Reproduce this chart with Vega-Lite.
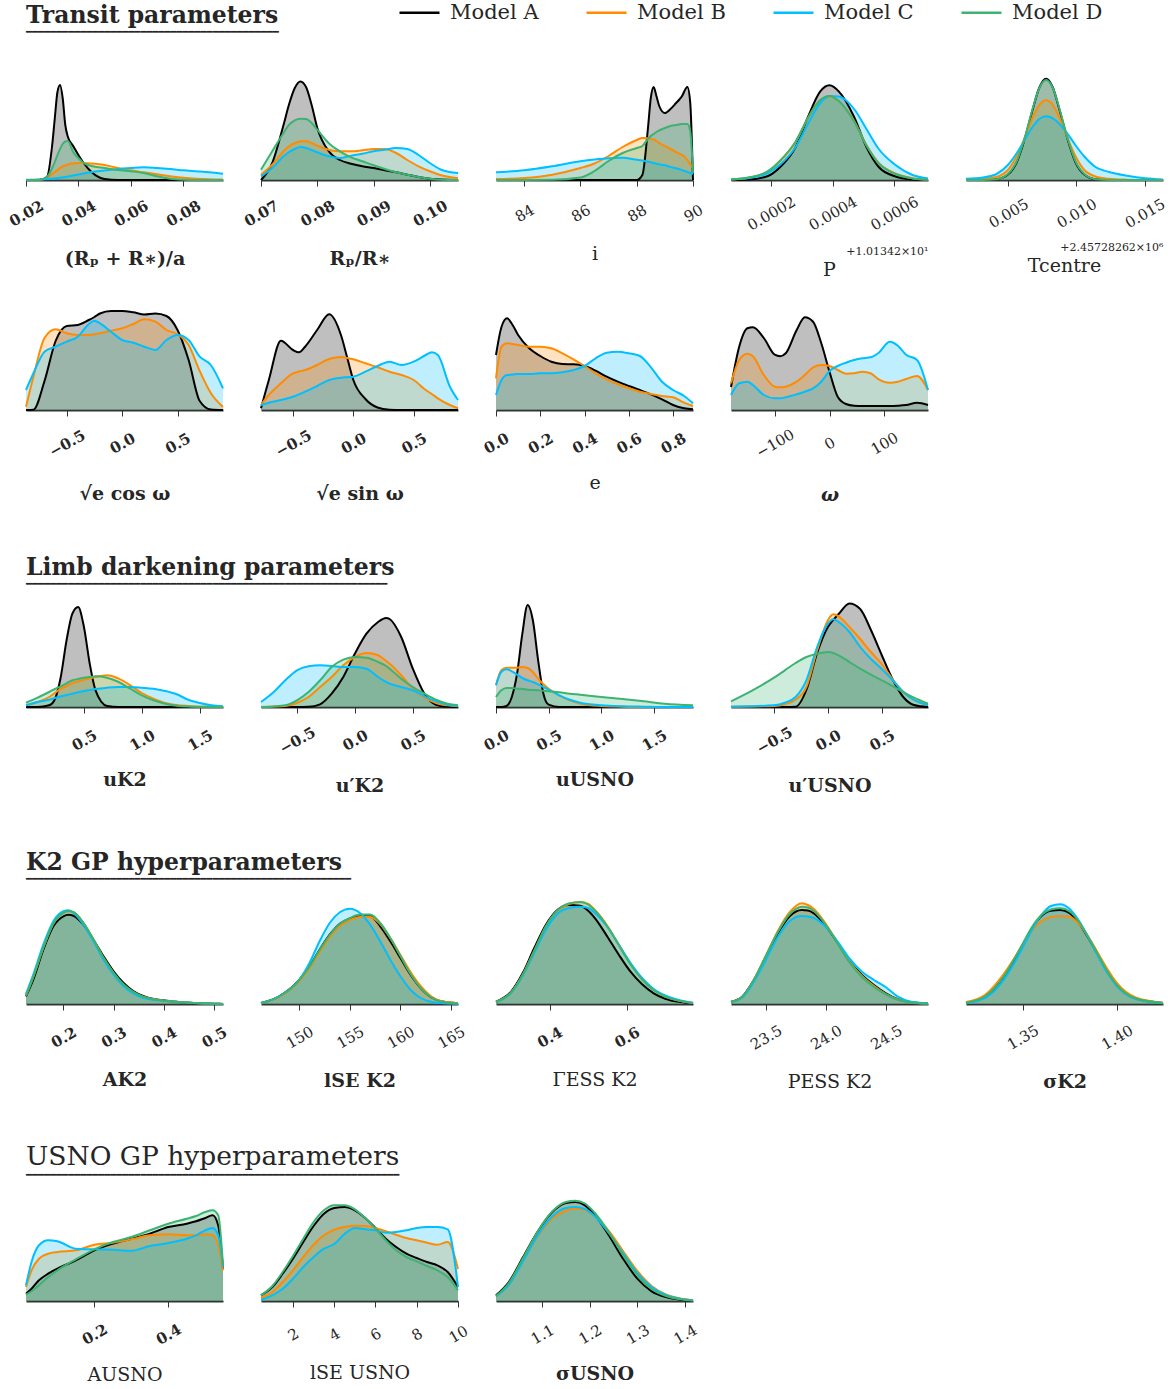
{
"$schema":"https://vega.github.io/schema/vega-lite/v6.json",
"background":"white",
"padding":{"left":6,"top":1,"right":0,"bottom":0},
"columns":5,
"bounds":"flush",
"spacing":{"row":125,"column":38},
"datasets":{
"a":[{"x":0.02,"A":0,"B":0,"C":0.003,"D":0},{"x":0.025,"A":0,"B":0.002,"C":0.006,"D":0},{"x":0.028,"A":0.03,"B":0.02,"C":0.01,"D":0.03},{"x":0.03,"A":0.35,"B":0.06,"C":0.015,"D":0.12},{"x":0.031,"A":0.62,"B":0.08,"C":0.017,"D":0.18},{"x":0.032,"A":0.88,"B":0.1,"C":0.02,"D":0.25},{"x":0.033,"A":0.95,"B":0.12,"C":0.023,"D":0.31},{"x":0.034,"A":0.82,"B":0.135,"C":0.027,"D":0.36},{"x":0.035,"A":0.55,"B":0.145,"C":0.03,"D":0.385},{"x":0.036,"A":0.43,"B":0.155,"C":0.035,"D":0.39},{"x":0.038,"A":0.34,"B":0.165,"C":0.045,"D":0.28},{"x":0.04,"A":0.25,"B":0.17,"C":0.055,"D":0.22},{"x":0.042,"A":0.17,"B":0.17,"C":0.065,"D":0.17},{"x":0.045,"A":0.08,"B":0.165,"C":0.08,"D":0.14},{"x":0.05,"A":0.01,"B":0.15,"C":0.095,"D":0.12},{"x":0.055,"A":0,"B":0.12,"C":0.11,"D":0.1},{"x":0.06,"A":0,"B":0.097,"C":0.12,"D":0.087},{"x":0.065,"A":0,"B":0.077,"C":0.127,"D":0.07},{"x":0.07,"A":0,"B":0.057,"C":0.12,"D":0.037},{"x":0.075,"A":0,"B":0.037,"C":0.11,"D":0.013},{"x":0.08,"A":0,"B":0.023,"C":0.097,"D":0.003},{"x":0.085,"A":0,"B":0.013,"C":0.087,"D":0},{"x":0.09,"A":0,"B":0.007,"C":0.077,"D":0},{"x":0.0952,"A":0,"B":0.004,"C":0.063,"D":0}],
"b":[{"x":0.07,"A":0,"B":0.053,"C":0.037,"D":0.103},{"x":0.072,"A":0.17,"B":0.153,"C":0.12,"D":0.287},{"x":0.074,"A":0.55,"B":0.287,"C":0.237,"D":0.47},{"x":0.075,"A":0.76,"B":0.337,"C":0.28,"D":0.553},{"x":0.076,"A":0.92,"B":0.37,"C":0.31,"D":0.597},{"x":0.077,"A":0.985,"B":0.387,"C":0.33,"D":0.613},{"x":0.078,"A":0.93,"B":0.387,"C":0.32,"D":0.61},{"x":0.079,"A":0.75,"B":0.37,"C":0.3,"D":0.57},{"x":0.08,"A":0.52,"B":0.343,"C":0.277,"D":0.503},{"x":0.082,"A":0.29,"B":0.303,"C":0.237,"D":0.37},{"x":0.084,"A":0.2,"B":0.287,"C":0.22,"D":0.287},{"x":0.086,"A":0.163,"B":0.287,"C":0.243,"D":0.227},{"x":0.088,"A":0.137,"B":0.297,"C":0.263,"D":0.187},{"x":0.09,"A":0.12,"B":0.31,"C":0.287,"D":0.147},{"x":0.092,"A":0.097,"B":0.31,"C":0.303,"D":0.11},{"x":0.094,"A":0.077,"B":0.27,"C":0.32,"D":0.077},{"x":0.096,"A":0.053,"B":0.2,"C":0.31,"D":0.053},{"x":0.098,"A":0.03,"B":0.137,"C":0.25,"D":0.03},{"x":0.1,"A":0.013,"B":0.087,"C":0.17,"D":0.013},{"x":0.102,"A":0.004,"B":0.047,"C":0.103,"D":0.003},{"x":0.105,"A":0,"B":0.017,"C":0.07,"D":0}],
"c":[{"x":83,"A":0,"B":0.01,"C":0.077,"D":0},{"x":84,"A":0,"B":0.02,"C":0.097,"D":0},{"x":85,"A":0,"B":0.053,"C":0.137,"D":0.002},{"x":86,"A":0,"B":0.12,"C":0.187,"D":0.025},{"x":86.5,"A":0,"B":0.165,"C":0.205,"D":0.09},{"x":87,"A":0,"B":0.24,"C":0.218,"D":0.19},{"x":87.5,"A":0,"B":0.33,"C":0.222,"D":0.27},{"x":88,"A":0,"B":0.4,"C":0.203,"D":0.32},{"x":88.2,"A":0.05,"B":0.42,"C":0.195,"D":0.34},{"x":88.4,"A":0.52,"B":0.418,"C":0.183,"D":0.41},{"x":88.5,"A":0.82,"B":0.412,"C":0.177,"D":0.44},{"x":88.6,"A":0.93,"B":0.405,"C":0.17,"D":0.46},{"x":88.7,"A":0.84,"B":0.39,"C":0.163,"D":0.48},{"x":88.8,"A":0.74,"B":0.37,"C":0.157,"D":0.495},{"x":89,"A":0.67,"B":0.34,"C":0.147,"D":0.52},{"x":89.2,"A":0.71,"B":0.31,"C":0.13,"D":0.54},{"x":89.4,"A":0.77,"B":0.28,"C":0.117,"D":0.55},{"x":89.5,"A":0.8,"B":0.265,"C":0.11,"D":0.555},{"x":89.6,"A":0.835,"B":0.253,"C":0.1,"D":0.56},{"x":89.8,"A":0.93,"B":0.2,"C":0.08,"D":0.56},{"x":89.9,"A":0.78,"B":0.16,"C":0.07,"D":0.49},{"x":90,"A":0,"B":0.12,"C":0.06,"D":0.07}],
"d":[{"x":0.00007,"A":0,"B":0.005,"C":0.008,"D":0.006},{"x":0.00013,"A":0.005,"B":0.025,"C":0.02,"D":0.027},{"x":0.00019,"A":0.04,"B":0.085,"C":0.07,"D":0.088},{"x":0.00023,"A":0.13,"B":0.19,"C":0.155,"D":0.195},{"x":0.00028,"A":0.33,"B":0.38,"C":0.33,"D":0.385},{"x":0.00032,"A":0.63,"B":0.62,"C":0.56,"D":0.62},{"x":0.00036,"A":0.886,"B":0.8,"C":0.77,"D":0.8},{"x":0.00039,"A":0.947,"B":0.835,"C":0.84,"D":0.84},{"x":0.00042,"A":0.886,"B":0.79,"C":0.835,"D":0.79},{"x":0.00047,"A":0.63,"B":0.59,"C":0.71,"D":0.585},{"x":0.00051,"A":0.33,"B":0.35,"C":0.51,"D":0.345},{"x":0.00055,"A":0.13,"B":0.17,"C":0.31,"D":0.165},{"x":0.0006,"A":0.04,"B":0.07,"C":0.16,"D":0.065},{"x":0.00066,"A":0.006,"B":0.018,"C":0.05,"D":0.016},{"x":0.00071,"A":0,"B":0.004,"C":0.015,"D":0.003}],
"e":[{"x":0.0019,"A":0,"B":0.003,"C":0.012,"D":0},{"x":0.00315,"A":0,"B":0.01,"C":0.025,"D":0},{"x":0.00414,"A":0.007,"B":0.03,"C":0.06,"D":0.008},{"x":0.00497,"A":0.054,"B":0.1,"C":0.15,"D":0.06},{"x":0.00563,"A":0.18,"B":0.24,"C":0.27,"D":0.19},{"x":0.00629,"A":0.45,"B":0.45,"C":0.42,"D":0.46},{"x":0.00678,"A":0.7,"B":0.62,"C":0.53,"D":0.71},{"x":0.00728,"A":0.925,"B":0.75,"C":0.61,"D":0.92},{"x":0.00777,"A":1.013,"B":0.797,"C":0.637,"D":1.0},{"x":0.00827,"A":0.925,"B":0.75,"C":0.617,"D":0.92},{"x":0.00876,"A":0.7,"B":0.62,"C":0.56,"D":0.71},{"x":0.00926,"A":0.45,"B":0.45,"C":0.48,"D":0.46},{"x":0.00992,"A":0.18,"B":0.24,"C":0.35,"D":0.19},{"x":0.01058,"A":0.054,"B":0.1,"C":0.235,"D":0.06},{"x":0.0114,"A":0.007,"B":0.035,"C":0.13,"D":0.008},{"x":0.0124,"A":0.001,"B":0.012,"C":0.08,"D":0.001},{"x":0.01371,"A":0,"B":0.003,"C":0.043,"D":0},{"x":0.01503,"A":0,"B":0,"C":0.017,"D":0},{"x":0.01635,"A":0,"B":0,"C":0.005,"D":0}],
"f":[{"x":-0.867,"A":0,"B":0.033,"C":0.2},{"x":-0.8,"A":0.003,"B":0.333,"C":0.367},{"x":-0.7,"A":0.29,"B":0.72,"C":0.583},{"x":-0.6,"A":0.69,"B":0.807,"C":0.633},{"x":-0.5,"A":0.84,"B":0.767,"C":0.683},{"x":-0.4,"A":0.85,"B":0.75,"C":0.733},{"x":-0.3,"A":0.9,"B":0.75,"C":0.86},{"x":-0.25,"A":0.93,"B":0.757,"C":0.893},{"x":-0.2,"A":0.965,"B":0.767,"C":0.867},{"x":-0.1,"A":0.99,"B":0.793,"C":0.783},{"x":0,"A":0.99,"B":0.817,"C":0.7},{"x":0.1,"A":0.977,"B":0.86,"C":0.673},{"x":0.2,"A":0.955,"B":0.907,"C":0.633},{"x":0.3,"A":0.965,"B":0.883,"C":0.6},{"x":0.4,"A":0.94,"B":0.8,"C":0.7},{"x":0.5,"A":0.8,"B":0.757,"C":0.75},{"x":0.6,"A":0.5,"B":0.65,"C":0.7},{"x":0.7,"A":0.09,"B":0.39,"C":0.533},{"x":0.8,"A":0.005,"B":0.17,"C":0.45},{"x":0.91,"A":0,"B":0.03,"C":0.217}],
"g":[{"x":-0.765,"A":0.017,"B":0.05,"C":0.05},{"x":-0.7,"A":0.3,"B":0.15,"C":0.073},{"x":-0.6,"A":0.693,"B":0.267,"C":0.1},{"x":-0.5,"A":0.6,"B":0.367,"C":0.133},{"x":-0.45,"A":0.577,"B":0.385,"C":0.157},{"x":-0.4,"A":0.633,"B":0.4,"C":0.183},{"x":-0.3,"A":0.8,"B":0.45,"C":0.24},{"x":-0.2,"A":0.957,"B":0.51,"C":0.3},{"x":-0.1,"A":0.74,"B":0.53,"C":0.323},{"x":-0.05,"A":0.52,"B":0.52,"C":0.328},{"x":0,"A":0.3,"B":0.507,"C":0.333},{"x":0.1,"A":0.11,"B":0.467,"C":0.383},{"x":0.2,"A":0.025,"B":0.427,"C":0.44},{"x":0.3,"A":0.003,"B":0.383,"C":0.483},{"x":0.4,"A":0,"B":0.35,"C":0.45},{"x":0.5,"A":0,"B":0.3,"C":0.483},{"x":0.6,"A":0,"B":0.2,"C":0.55},{"x":0.65,"A":0,"B":0.16,"C":0.577},{"x":0.7,"A":0,"B":0.117,"C":0.55},{"x":0.8,"A":0,"B":0.05,"C":0.233},{"x":0.867,"A":0,"B":0.017,"C":0.1}],
"h":[{"x":0,"A":0.55,"B":0.317,"C":0.15},{"x":0.025,"A":0.833,"B":0.633,"C":0.3},{"x":0.05,"A":0.917,"B":0.667,"C":0.35},{"x":0.075,"A":0.85,"B":0.66,"C":0.355},{"x":0.1,"A":0.75,"B":0.65,"C":0.36},{"x":0.15,"A":0.617,"B":0.633,"C":0.36},{"x":0.2,"A":0.54,"B":0.633,"C":0.367},{"x":0.25,"A":0.483,"B":0.617,"C":0.367},{"x":0.3,"A":0.46,"B":0.567,"C":0.377},{"x":0.35,"A":0.457,"B":0.507,"C":0.4},{"x":0.4,"A":0.44,"B":0.44,"C":0.44},{"x":0.45,"A":0.393,"B":0.367,"C":0.517},{"x":0.5,"A":0.333,"B":0.307,"C":0.573},{"x":0.55,"A":0.283,"B":0.257,"C":0.583},{"x":0.6,"A":0.24,"B":0.217,"C":0.567},{"x":0.65,"A":0.2,"B":0.183,"C":0.54},{"x":0.7,"A":0.157,"B":0.16,"C":0.427},{"x":0.75,"A":0.107,"B":0.14,"C":0.283},{"x":0.8,"A":0.05,"B":0.127,"C":0.2},{"x":0.85,"A":0.017,"B":0.073,"C":0.14},{"x":0.89,"A":0.007,"B":0.04,"C":0.067}],
"i":[{"x":-180,"A":0.23,"B":0.267,"C":0.15},{"x":-165,"A":0.633,"B":0.5,"C":0.267},{"x":-150,"A":0.817,"B":0.563,"C":0.283},{"x":-140,"A":0.827,"B":0.537,"C":0.25},{"x":-120,"A":0.72,"B":0.35,"C":0.15},{"x":-100,"A":0.553,"B":0.233,"C":0.117},{"x":-90,"A":0.537,"B":0.227,"C":0.117},{"x":-80,"A":0.567,"B":0.233,"C":0.127},{"x":-60,"A":0.8,"B":0.283,"C":0.157},{"x":-45,"A":0.927,"B":0.35,"C":0.183},{"x":-30,"A":0.883,"B":0.427,"C":0.217},{"x":-15,"A":0.667,"B":0.45,"C":0.283},{"x":0,"A":0.383,"B":0.44,"C":0.39},{"x":15,"A":0.133,"B":0.4,"C":0.44},{"x":30,"A":0.06,"B":0.363,"C":0.473},{"x":45,"A":0.043,"B":0.367,"C":0.5},{"x":60,"A":0.04,"B":0.383,"C":0.517},{"x":75,"A":0.04,"B":0.367,"C":0.527},{"x":90,"A":0.04,"B":0.307,"C":0.573},{"x":110,"A":0.04,"B":0.273,"C":0.683},{"x":125,"A":0.043,"B":0.283,"C":0.643},{"x":140,"A":0.05,"B":0.31,"C":0.553},{"x":160,"A":0.073,"B":0.34,"C":0.5},{"x":180,"A":0.05,"B":0.2,"C":0.2}],
"j":[{"x":0,"A":0,"B":0.017,"C":0.017,"D":0.043},{"x":0.1,"A":0,"B":0.05,"C":0.05,"D":0.093},{"x":0.2,"A":0.017,"B":0.1,"C":0.073,"D":0.15},{"x":0.25,"A":0.08,"B":0.14,"C":0.09,"D":0.18},{"x":0.3,"A":0.3,"B":0.183,"C":0.107,"D":0.207},{"x":0.35,"A":0.667,"B":0.21,"C":0.12,"D":0.237},{"x":0.4,"A":0.933,"B":0.24,"C":0.133,"D":0.267},{"x":0.45,"A":1.0,"B":0.255,"C":0.147,"D":0.28},{"x":0.5,"A":0.8,"B":0.273,"C":0.16,"D":0.293},{"x":0.55,"A":0.433,"B":0.285,"C":0.17,"D":0.3},{"x":0.6,"A":0.167,"B":0.3,"C":0.18,"D":0.307},{"x":0.7,"A":0.01,"B":0.317,"C":0.193,"D":0.293},{"x":0.8,"A":0,"B":0.283,"C":0.2,"D":0.25},{"x":0.9,"A":0,"B":0.217,"C":0.2,"D":0.183},{"x":1.0,"A":0,"B":0.14,"C":0.193,"D":0.117},{"x":1.1,"A":0,"B":0.083,"C":0.183,"D":0.067},{"x":1.2,"A":0,"B":0.04,"C":0.16,"D":0.033},{"x":1.3,"A":0,"B":0.02,"C":0.127,"D":0.013},{"x":1.4,"A":0,"B":0.01,"C":0.073,"D":0.005},{"x":1.5,"A":0,"B":0.003,"C":0.04,"D":0.002},{"x":1.6,"A":0,"B":0.001,"C":0.017,"D":0},{"x":1.7,"A":0,"B":0,"C":0.007,"D":0}],
"k":[{"x":-0.81,"A":0,"B":0,"C":0.05,"D":0},{"x":-0.7,"A":0,"B":0.005,"C":0.15,"D":0.005},{"x":-0.6,"A":0,"B":0.01,"C":0.267,"D":0.017},{"x":-0.5,"A":0,"B":0.04,"C":0.367,"D":0.067},{"x":-0.4,"A":0.002,"B":0.1,"C":0.407,"D":0.15},{"x":-0.3,"A":0.027,"B":0.2,"C":0.417,"D":0.267},{"x":-0.2,"A":0.133,"B":0.3,"C":0.41,"D":0.4},{"x":-0.1,"A":0.3,"B":0.417,"C":0.4,"D":0.473},{"x":0,"A":0.533,"B":0.5,"C":0.4,"D":0.5},{"x":0.1,"A":0.733,"B":0.54,"C":0.383,"D":0.493},{"x":0.2,"A":0.85,"B":0.517,"C":0.3,"D":0.45},{"x":0.27,"A":0.89,"B":0.46,"C":0.25,"D":0.41},{"x":0.3,"A":0.88,"B":0.433,"C":0.233,"D":0.383},{"x":0.4,"A":0.7,"B":0.317,"C":0.2,"D":0.283},{"x":0.5,"A":0.383,"B":0.183,"C":0.167,"D":0.2},{"x":0.6,"A":0.133,"B":0.093,"C":0.107,"D":0.133},{"x":0.7,"A":0.023,"B":0.04,"C":0.057,"D":0.073},{"x":0.8,"A":0.002,"B":0.017,"C":0.023,"D":0.033},{"x":0.89,"A":0,"B":0.007,"C":0.01,"D":0.017}],
"l":[{"x":0,"A":0,"B":0.217,"C":0.217,"D":0.1},{"x":0.05,"A":0,"B":0.367,"C":0.35,"D":0.167},{"x":0.1,"A":0.01,"B":0.393,"C":0.377,"D":0.19},{"x":0.15,"A":0.1,"B":0.393,"C":0.357,"D":0.19},{"x":0.2,"A":0.333,"B":0.393,"C":0.323,"D":0.183},{"x":0.25,"A":0.733,"B":0.4,"C":0.29,"D":0.18},{"x":0.3,"A":1.02,"B":0.39,"C":0.267,"D":0.173},{"x":0.35,"A":0.867,"B":0.35,"C":0.25,"D":0.17},{"x":0.4,"A":0.467,"B":0.283,"C":0.227,"D":0.167},{"x":0.45,"A":0.133,"B":0.227,"C":0.2,"D":0.162},{"x":0.5,"A":0.023,"B":0.183,"C":0.173,"D":0.157},{"x":0.6,"A":0,"B":0.117,"C":0.117,"D":0.147},{"x":0.7,"A":0,"B":0.067,"C":0.073,"D":0.133},{"x":0.8,"A":0,"B":0.033,"C":0.043,"D":0.123},{"x":1.0,"A":0,"B":0.01,"C":0.017,"D":0.1},{"x":1.2,"A":0,"B":0.003,"C":0.007,"D":0.08},{"x":1.4,"A":0,"B":0,"C":0.003,"D":0.057},{"x":1.6,"A":0,"B":0,"C":0,"D":0.033},{"x":1.87,"A":0,"B":0,"C":0,"D":0.017}],
"m":[{"x":-0.9,"A":0,"B":0.003,"C":0.003,"D":0.057},{"x":-0.7,"A":0,"B":0.005,"C":0.008,"D":0.167},{"x":-0.5,"A":0,"B":0.01,"C":0.017,"D":0.293},{"x":-0.4,"A":0,"B":0.027,"C":0.043,"D":0.367},{"x":-0.3,"A":0.003,"B":0.073,"C":0.1,"D":0.44},{"x":-0.2,"A":0.17,"B":0.2,"C":0.267,"D":0.5},{"x":-0.1,"A":0.54,"B":0.567,"C":0.6,"D":0.533},{"x":0,"A":0.8,"B":0.867,"C":0.833,"D":0.55},{"x":0.05,"A":0.87,"B":0.927,"C":0.877,"D":0.54},{"x":0.1,"A":0.93,"B":0.907,"C":0.85,"D":0.517},{"x":0.2,"A":1.035,"B":0.8,"C":0.75,"D":0.45},{"x":0.3,"A":0.98,"B":0.68,"C":0.6,"D":0.383},{"x":0.4,"A":0.77,"B":0.55,"C":0.48,"D":0.323},{"x":0.5,"A":0.52,"B":0.43,"C":0.38,"D":0.267},{"x":0.6,"A":0.28,"B":0.28,"C":0.27,"D":0.21},{"x":0.7,"A":0.1,"B":0.15,"C":0.15,"D":0.15},{"x":0.8,"A":0.02,"B":0.07,"C":0.07,"D":0.093},{"x":0.93,"A":0,"B":0.02,"C":0.02,"D":0.033}],
"n":[{"x":0.1255,"A":0.077,"B":0.083,"C":0.1,"D":0.085},{"x":0.14,"A":0.243,"B":0.27,"C":0.293,"D":0.272},{"x":0.16,"A":0.543,"B":0.563,"C":0.593,"D":0.565},{"x":0.18,"A":0.777,"B":0.803,"C":0.827,"D":0.805},{"x":0.2,"A":0.877,"B":0.91,"C":0.927,"D":0.912},{"x":0.21,"A":0.893,"B":0.927,"C":0.937,"D":0.93},{"x":0.22,"A":0.883,"B":0.917,"C":0.91,"D":0.92},{"x":0.24,"A":0.793,"B":0.81,"C":0.793,"D":0.812},{"x":0.26,"A":0.643,"B":0.643,"C":0.627,"D":0.645},{"x":0.28,"A":0.477,"B":0.46,"C":0.443,"D":0.462},{"x":0.3,"A":0.327,"B":0.31,"C":0.293,"D":0.312},{"x":0.32,"A":0.21,"B":0.193,"C":0.177,"D":0.195},{"x":0.34,"A":0.127,"B":0.117,"C":0.103,"D":0.118},{"x":0.36,"A":0.077,"B":0.07,"C":0.06,"D":0.071},{"x":0.38,"A":0.05,"B":0.047,"C":0.043,"D":0.047},{"x":0.4,"A":0.037,"B":0.033,"C":0.033,"D":0.033},{"x":0.43,"A":0.02,"B":0.02,"C":0.02,"D":0.02},{"x":0.46,"A":0.01,"B":0.01,"C":0.01,"D":0.01},{"x":0.5,"A":0.003,"B":0.003,"C":0.003,"D":0.003},{"x":0.518,"A":0,"B":0,"C":0,"D":0}],
"o":[{"x":146.2,"A":0.01,"B":0.008,"C":0.01,"D":0.01},{"x":148,"A":0.077,"B":0.07,"C":0.077,"D":0.075},{"x":150,"A":0.243,"B":0.23,"C":0.243,"D":0.24},{"x":151,"A":0.377,"B":0.36,"C":0.41,"D":0.375},{"x":152,"A":0.543,"B":0.52,"C":0.627,"D":0.54},{"x":153,"A":0.693,"B":0.67,"C":0.81,"D":0.69},{"x":154,"A":0.803,"B":0.78,"C":0.917,"D":0.8},{"x":155,"A":0.853,"B":0.84,"C":0.953,"D":0.86},{"x":156,"A":0.877,"B":0.87,"C":0.91,"D":0.895},{"x":157,"A":0.878,"B":0.87,"C":0.793,"D":0.895},{"x":158,"A":0.777,"B":0.8,"C":0.627,"D":0.81},{"x":159,"A":0.627,"B":0.66,"C":0.443,"D":0.66},{"x":160,"A":0.46,"B":0.49,"C":0.277,"D":0.48},{"x":161,"A":0.293,"B":0.32,"C":0.143,"D":0.3},{"x":162,"A":0.16,"B":0.18,"C":0.06,"D":0.16},{"x":163,"A":0.07,"B":0.08,"C":0.023,"D":0.07},{"x":164,"A":0.027,"B":0.03,"C":0.01,"D":0.025},{"x":165.7,"A":0.007,"B":0.007,"C":0.003,"D":0.005}],
"q":[{"x":0.261,"A":0.023,"B":0.02,"C":0.02,"D":0.02},{"x":0.3,"A":0.123,"B":0.115,"C":0.11,"D":0.113},{"x":0.33,"A":0.307,"B":0.29,"C":0.28,"D":0.29},{"x":0.36,"A":0.557,"B":0.53,"C":0.51,"D":0.53},{"x":0.39,"A":0.79,"B":0.77,"C":0.74,"D":0.775},{"x":0.42,"A":0.94,"B":0.93,"C":0.9,"D":0.935},{"x":0.45,"A":0.99,"B":1.0,"C":0.96,"D":1.005},{"x":0.48,"A":0.983,"B":1.02,"C":0.973,"D":1.02},{"x":0.5,"A":0.933,"B":1.0,"C":0.96,"D":0.995},{"x":0.52,"A":0.847,"B":0.93,"C":0.9,"D":0.925},{"x":0.55,"A":0.673,"B":0.78,"C":0.77,"D":0.775},{"x":0.58,"A":0.49,"B":0.59,"C":0.59,"D":0.585},{"x":0.61,"A":0.323,"B":0.4,"C":0.41,"D":0.395},{"x":0.64,"A":0.197,"B":0.25,"C":0.26,"D":0.245},{"x":0.67,"A":0.107,"B":0.14,"C":0.15,"D":0.137},{"x":0.7,"A":0.053,"B":0.075,"C":0.085,"D":0.073},{"x":0.74,"A":0.02,"B":0.03,"C":0.035,"D":0.029},{"x":0.772,"A":0.007,"B":0.01,"C":0.012,"D":0.01}],
"r":[{"x":23.21,"A":0.023,"B":0.02,"C":0.02,"D":0.02},{"x":23.3,"A":0.07,"B":0.065,"C":0.06,"D":0.068},{"x":23.4,"A":0.24,"B":0.24,"C":0.22,"D":0.24},{"x":23.5,"A":0.473,"B":0.48,"C":0.44,"D":0.48},{"x":23.6,"A":0.707,"B":0.73,"C":0.67,"D":0.72},{"x":23.7,"A":0.88,"B":0.92,"C":0.83,"D":0.9},{"x":23.8,"A":0.94,"B":1.007,"C":0.88,"D":0.973},{"x":23.85,"A":0.935,"B":0.99,"C":0.875,"D":0.965},{"x":23.9,"A":0.907,"B":0.95,"C":0.86,"D":0.93},{"x":24.0,"A":0.78,"B":0.8,"C":0.77,"D":0.79},{"x":24.1,"A":0.607,"B":0.61,"C":0.62,"D":0.6},{"x":24.2,"A":0.423,"B":0.42,"C":0.45,"D":0.41},{"x":24.3,"A":0.29,"B":0.28,"C":0.323,"D":0.27},{"x":24.4,"A":0.19,"B":0.18,"C":0.24,"D":0.17},{"x":24.5,"A":0.107,"B":0.1,"C":0.167,"D":0.095},{"x":24.6,"A":0.047,"B":0.045,"C":0.073,"D":0.042},{"x":24.7,"A":0.02,"B":0.018,"C":0.025,"D":0.016},{"x":24.85,"A":0.005,"B":0.004,"C":0.005,"D":0.004}],
"s":[{"x":1.32,"A":0.013,"B":0.02,"C":0.01,"D":0.013},{"x":1.33,"A":0.073,"B":0.09,"C":0.06,"D":0.075},{"x":1.34,"A":0.273,"B":0.3,"C":0.24,"D":0.275},{"x":1.345,"A":0.423,"B":0.44,"C":0.39,"D":0.43},{"x":1.35,"A":0.59,"B":0.59,"C":0.56,"D":0.6},{"x":1.355,"A":0.757,"B":0.73,"C":0.74,"D":0.77},{"x":1.36,"A":0.88,"B":0.83,"C":0.89,"D":0.89},{"x":1.365,"A":0.933,"B":0.87,"C":0.98,"D":0.945},{"x":1.37,"A":0.94,"B":0.88,"C":0.997,"D":0.957},{"x":1.375,"A":0.907,"B":0.87,"C":0.95,"D":0.925},{"x":1.38,"A":0.807,"B":0.8,"C":0.83,"D":0.82},{"x":1.385,"A":0.657,"B":0.67,"C":0.66,"D":0.665},{"x":1.39,"A":0.49,"B":0.51,"C":0.48,"D":0.495},{"x":1.395,"A":0.323,"B":0.35,"C":0.31,"D":0.325},{"x":1.4,"A":0.19,"B":0.21,"C":0.18,"D":0.19},{"x":1.41,"A":0.057,"B":0.065,"C":0.05,"D":0.055},{"x":1.4245,"A":0.01,"B":0.012,"C":0.008,"D":0.01}],
"t":[{"x":0.015,"A":0.073,"B":0.14,"C":0.157,"D":0.063},{"x":0.03,"A":0.123,"B":0.307,"C":0.39,"D":0.097},{"x":0.05,"A":0.207,"B":0.423,"C":0.557,"D":0.157},{"x":0.075,"A":0.273,"B":0.473,"C":0.607,"D":0.24},{"x":0.1,"A":0.323,"B":0.49,"C":0.597,"D":0.307},{"x":0.15,"A":0.407,"B":0.507,"C":0.523,"D":0.417},{"x":0.2,"A":0.507,"B":0.563,"C":0.517,"D":0.517},{"x":0.25,"A":0.573,"B":0.583,"C":0.513,"D":0.59},{"x":0.3,"A":0.623,"B":0.617,"C":0.503,"D":0.64},{"x":0.35,"A":0.673,"B":0.657,"C":0.55,"D":0.707},{"x":0.4,"A":0.74,"B":0.667,"C":0.58,"D":0.773},{"x":0.45,"A":0.773,"B":0.657,"C":0.623,"D":0.823},{"x":0.475,"A":0.797,"B":0.657,"C":0.657,"D":0.85},{"x":0.5,"A":0.83,"B":0.667,"C":0.707,"D":0.89},{"x":0.52,"A":0.857,"B":0.657,"C":0.73,"D":0.907},{"x":0.535,"A":0.757,"B":0.557,"C":0.657,"D":0.857},{"x":0.548,"A":0.323,"B":0.307,"C":0.34,"D":0.357}],
"u":[{"x":0.45,"A":0.057,"B":0.03,"C":0.013,"D":0.057},{"x":1,"A":0.14,"B":0.09,"C":0.057,"D":0.15},{"x":1.5,"A":0.273,"B":0.19,"C":0.123,"D":0.29},{"x":2,"A":0.423,"B":0.307,"C":0.223,"D":0.45},{"x":2.5,"A":0.59,"B":0.44,"C":0.34,"D":0.623},{"x":3,"A":0.75,"B":0.563,"C":0.44,"D":0.79},{"x":3.5,"A":0.873,"B":0.657,"C":0.523,"D":0.907},{"x":4,"A":0.93,"B":0.713,"C":0.57,"D":0.957},{"x":4.5,"A":0.94,"B":0.74,"C":0.67,"D":0.957},{"x":5,"A":0.907,"B":0.753,"C":0.73,"D":0.917},{"x":5.5,"A":0.83,"B":0.75,"C":0.717,"D":0.83},{"x":6,"A":0.73,"B":0.73,"C":0.707,"D":0.723},{"x":6.5,"A":0.623,"B":0.697,"C":0.683,"D":0.607},{"x":7,"A":0.54,"B":0.663,"C":0.69,"D":0.507},{"x":7.5,"A":0.473,"B":0.63,"C":0.707,"D":0.44},{"x":8,"A":0.43,"B":0.607,"C":0.73,"D":0.397},{"x":8.5,"A":0.39,"B":0.583,"C":0.74,"D":0.35},{"x":9,"A":0.357,"B":0.563,"C":0.74,"D":0.307},{"x":9.5,"A":0.29,"B":0.59,"C":0.717,"D":0.24},{"x":10,"A":0.14,"B":0.32,"C":0.14,"D":0.107}],
"v":[{"x":1.003,"A":0.057,"B":0.045,"C":0.045,"D":0.05},{"x":1.03,"A":0.19,"B":0.16,"C":0.16,"D":0.18},{"x":1.06,"A":0.44,"B":0.4,"C":0.4,"D":0.43},{"x":1.09,"A":0.69,"B":0.64,"C":0.65,"D":0.69},{"x":1.12,"A":0.883,"B":0.82,"C":0.84,"D":0.89},{"x":1.15,"A":0.98,"B":0.905,"C":0.93,"D":0.99},{"x":1.17,"A":0.99,"B":0.923,"C":0.94,"D":1.003},{"x":1.19,"A":0.957,"B":0.91,"C":0.92,"D":0.975},{"x":1.21,"A":0.863,"B":0.85,"C":0.85,"D":0.885},{"x":1.24,"A":0.657,"B":0.7,"C":0.68,"D":0.69},{"x":1.27,"A":0.423,"B":0.5,"C":0.48,"D":0.46},{"x":1.3,"A":0.223,"B":0.3,"C":0.28,"D":0.26},{"x":1.33,"A":0.097,"B":0.15,"C":0.14,"D":0.12},{"x":1.36,"A":0.04,"B":0.065,"C":0.06,"D":0.05},{"x":1.39,"A":0.013,"B":0.025,"C":0.022,"D":0.018},{"x":1.417,"A":0.003,"B":0.008,"C":0.007,"D":0.005}]
},
"concat":[
{"width":197,"height":105,"data":{"name":"a"},"title":{"text":"Transit parameters","subtitle":"━━━━━━━━━━━━━━━━━━━━━━━━━━━━━━━━━━━━━━━━━━","anchor":"start","frame":"group","orient":"top","fontSize":23.5,"fontWeight":"bold","subtitleFont":"DejaVu Sans","subtitleFontSize":10,"subtitleColor":"#262626","subtitlePadding":0,"offset":38},"transform":[{"fold":["A","B","C","D"],"as":["m","y"]},{"filter":"isValid(datum.y)"}],"encoding":{"x":{"field":"x","type":"quantitative","scale":{"domain":[0.02,0.0952],"nice":false,"zero":false},"axis":{"title":"(Rₚ + R∗)/a","values":[0.02,0.04,0.06,0.08],"format":".2f","labelFontWeight":"bold","titleFontWeight":"bold"}},"y":{"field":"y","type":"quantitative","stack":null,"scale":{"domain":[0,1.05],"nice":false},"axis":null},"color":{"field":"m","type":"nominal","scale":{"domain":["A","B","C","D"],"range":["#000000","#ff8c00","#00bfff","#3cb371"]},"legend":{"orient":"none","legendX":382,"legendY":-74,"direction":"horizontal","title":null,"labelExpr":"'Model ' + datum.label"}}},"layer":[{"mark":{"type":"area","interpolate":"monotone","fillOpacity":0.25,"opacity":1}},{"mark":{"type":"line","interpolate":"monotone","strokeWidth":2}}]},
{"width":197,"height":105,"data":{"name":"b"},"transform":[{"fold":["A","B","C","D"],"as":["m","y"]},{"filter":"isValid(datum.y)"}],"encoding":{"x":{"field":"x","type":"quantitative","scale":{"domain":[0.07,0.105],"nice":false,"zero":false},"axis":{"title":"Rₚ/R∗","values":[0.07,0.08,0.09,0.1],"format":".2f","labelFontWeight":"bold","titleFontWeight":"bold"}},"y":{"field":"y","type":"quantitative","stack":null,"scale":{"domain":[0,1.05],"nice":false},"axis":null},"color":{"field":"m","type":"nominal","scale":{"domain":["A","B","C","D"],"range":["#000000","#ff8c00","#00bfff","#3cb371"]},"legend":{"orient":"none","legendX":382,"legendY":-74,"direction":"horizontal","title":null,"labelExpr":"'Model ' + datum.label"}}},"layer":[{"mark":{"type":"area","interpolate":"monotone","fillOpacity":0.25,"opacity":1}},{"mark":{"type":"line","interpolate":"monotone","strokeWidth":2}}]},
{"width":197,"height":105,"data":{"name":"c"},"transform":[{"fold":["A","B","C","D"],"as":["m","y"]},{"filter":"isValid(datum.y)"}],"encoding":{"x":{"field":"x","type":"quantitative","scale":{"domain":[83,90],"nice":false,"zero":false},"axis":{"title":"i","values":[84,86,88,90],"format":"d"}},"y":{"field":"y","type":"quantitative","stack":null,"scale":{"domain":[0,1.05],"nice":false},"axis":null},"color":{"field":"m","type":"nominal","scale":{"domain":["A","B","C","D"],"range":["#000000","#ff8c00","#00bfff","#3cb371"]},"legend":{"orient":"none","legendX":382,"legendY":-74,"direction":"horizontal","title":null,"labelExpr":"'Model ' + datum.label"}}},"layer":[{"mark":{"type":"area","interpolate":"monotone","fillOpacity":0.25,"opacity":1}},{"mark":{"type":"line","interpolate":"monotone","strokeWidth":2}}]},
{"width":197,"height":105,"data":{"name":"d"},"title":{"text":"P","orient":"bottom","frame":"group","anchor":"middle","fontSize":19,"fontWeight":"normal","offset":5},"transform":[{"fold":["A","B","C","D"],"as":["m","y"]},{"filter":"isValid(datum.y)"}],"encoding":{"x":{"field":"x","type":"quantitative","scale":{"domain":[0.00007,0.00071],"nice":false,"zero":false},"axis":{"title":"+1.01342×10¹","titleFontSize":11,"titleAnchor":"end","titlePadding":12,"values":[0.0002,0.0004,0.0006],"format":".4f"}},"y":{"field":"y","type":"quantitative","stack":null,"scale":{"domain":[0,1.05],"nice":false},"axis":null},"color":{"field":"m","type":"nominal","scale":{"domain":["A","B","C","D"],"range":["#000000","#ff8c00","#00bfff","#3cb371"]},"legend":{"orient":"none","legendX":382,"legendY":-74,"direction":"horizontal","title":null,"labelExpr":"'Model ' + datum.label"}}},"layer":[{"mark":{"type":"area","interpolate":"monotone","fillOpacity":0.25,"opacity":1}},{"mark":{"type":"line","interpolate":"monotone","strokeWidth":2}}]},
{"width":197,"height":105,"data":{"name":"e"},"title":{"text":"Tcentre","orient":"bottom","frame":"group","anchor":"middle","fontSize":19,"fontWeight":"normal","offset":4},"transform":[{"fold":["A","B","C","D"],"as":["m","y"]},{"filter":"isValid(datum.y)"}],"encoding":{"x":{"field":"x","type":"quantitative","scale":{"domain":[0.0019,0.01635],"nice":false,"zero":false},"axis":{"title":"+2.45728262×10⁶","titleFontSize":11,"titleAnchor":"end","titlePadding":11,"values":[0.005,0.01,0.015],"format":".3f"}},"y":{"field":"y","type":"quantitative","stack":null,"scale":{"domain":[0,1.05],"nice":false},"axis":null},"color":{"field":"m","type":"nominal","scale":{"domain":["A","B","C","D"],"range":["#000000","#ff8c00","#00bfff","#3cb371"]},"legend":{"orient":"none","legendX":382,"legendY":-74,"direction":"horizontal","title":null,"labelExpr":"'Model ' + datum.label"}}},"layer":[{"mark":{"type":"area","interpolate":"monotone","fillOpacity":0.25,"opacity":1}},{"mark":{"type":"line","interpolate":"monotone","strokeWidth":2}}]},
{"width":197,"height":105,"data":{"name":"f"},"transform":[{"fold":["A","B","C","D"],"as":["m","y"]},{"filter":"isValid(datum.y)"}],"encoding":{"x":{"field":"x","type":"quantitative","scale":{"domain":[-0.867,0.91],"nice":false,"zero":false},"axis":{"title":"√e cos ω","titlePadding":25,"values":[-0.5,0,0.5],"format":".1f","labelFontWeight":"bold","titleFontWeight":"bold"}},"y":{"field":"y","type":"quantitative","stack":null,"scale":{"domain":[0,1.05],"nice":false},"axis":null},"color":{"field":"m","type":"nominal","scale":{"domain":["A","B","C","D"],"range":["#000000","#ff8c00","#00bfff","#3cb371"]},"legend":{"orient":"none","legendX":382,"legendY":-74,"direction":"horizontal","title":null,"labelExpr":"'Model ' + datum.label"}}},"layer":[{"mark":{"type":"area","interpolate":"monotone","fillOpacity":0.25,"opacity":1}},{"mark":{"type":"line","interpolate":"monotone","strokeWidth":2}}]},
{"width":197,"height":105,"data":{"name":"g"},"transform":[{"fold":["A","B","C","D"],"as":["m","y"]},{"filter":"isValid(datum.y)"}],"encoding":{"x":{"field":"x","type":"quantitative","scale":{"domain":[-0.765,0.867],"nice":false,"zero":false},"axis":{"title":"√e sin ω","titlePadding":25,"values":[-0.5,0,0.5],"format":".1f","labelFontWeight":"bold","titleFontWeight":"bold"}},"y":{"field":"y","type":"quantitative","stack":null,"scale":{"domain":[0,1.05],"nice":false},"axis":null},"color":{"field":"m","type":"nominal","scale":{"domain":["A","B","C","D"],"range":["#000000","#ff8c00","#00bfff","#3cb371"]},"legend":{"orient":"none","legendX":382,"legendY":-74,"direction":"horizontal","title":null,"labelExpr":"'Model ' + datum.label"}}},"layer":[{"mark":{"type":"area","interpolate":"monotone","fillOpacity":0.25,"opacity":1}},{"mark":{"type":"line","interpolate":"monotone","strokeWidth":2}}]},
{"width":197,"height":105,"data":{"name":"h"},"transform":[{"fold":["A","B","C","D"],"as":["m","y"]},{"filter":"isValid(datum.y)"}],"encoding":{"x":{"field":"x","type":"quantitative","scale":{"domain":[0,0.89],"nice":false,"zero":false},"axis":{"title":"e","titlePadding":17,"values":[0,0.2,0.4,0.6,0.8],"format":".1f","labelFontWeight":"bold"}},"y":{"field":"y","type":"quantitative","stack":null,"scale":{"domain":[0,1.05],"nice":false},"axis":null},"color":{"field":"m","type":"nominal","scale":{"domain":["A","B","C","D"],"range":["#000000","#ff8c00","#00bfff","#3cb371"]},"legend":{"orient":"none","legendX":382,"legendY":-74,"direction":"horizontal","title":null,"labelExpr":"'Model ' + datum.label"}}},"layer":[{"mark":{"type":"area","interpolate":"monotone","fillOpacity":0.25,"opacity":1}},{"mark":{"type":"line","interpolate":"monotone","strokeWidth":2}}]},
{"width":197,"height":105,"data":{"name":"i"},"transform":[{"fold":["A","B","C","D"],"as":["m","y"]},{"filter":"isValid(datum.y)"}],"encoding":{"x":{"field":"x","type":"quantitative","scale":{"domain":[-180,180],"nice":false,"zero":false},"axis":{"title":"ω","titlePadding":25,"values":[-100,0,100],"format":"d","titleFontWeight":"bold","titleFontStyle":"italic"}},"y":{"field":"y","type":"quantitative","stack":null,"scale":{"domain":[0,1.05],"nice":false},"axis":null},"color":{"field":"m","type":"nominal","scale":{"domain":["A","B","C","D"],"range":["#000000","#ff8c00","#00bfff","#3cb371"]},"legend":{"orient":"none","legendX":382,"legendY":-74,"direction":"horizontal","title":null,"labelExpr":"'Model ' + datum.label"}}},"layer":[{"mark":{"type":"area","interpolate":"monotone","fillOpacity":0.25,"opacity":1}},{"mark":{"type":"line","interpolate":"monotone","strokeWidth":2}}]},
{"width":197,"height":105,"data":{"values":[]},"mark":"point"},
{"width":197,"height":172,"data":{"name":"j"},"title":{"text":"Limb darkening parameters","subtitle":"━━━━━━━━━━━━━━━━━━━━━━━━━━━━━━━━━━━━━━━━━━━━━━━━━━━━━━━━━━━━","anchor":"start","frame":"group","orient":"top","fontSize":23.5,"fontWeight":"bold","subtitleFont":"DejaVu Sans","subtitleFontSize":10,"subtitleColor":"#262626","subtitlePadding":0,"offset":-54},"transform":[{"fold":["A","B","C","D"],"as":["m","y"]},{"filter":"isValid(datum.y)"}],"encoding":{"x":{"field":"x","type":"quantitative","scale":{"domain":[0,1.7],"nice":false,"zero":false},"axis":{"title":"uK2","titlePadding":17,"values":[0.5,1,1.5],"format":".1f","labelFontWeight":"bold","titleFontWeight":"bold"}},"y":{"field":"y","type":"quantitative","stack":null,"scale":{"domain":[0,1.72],"nice":false},"axis":null},"color":{"field":"m","type":"nominal","scale":{"domain":["A","B","C","D"],"range":["#000000","#ff8c00","#00bfff","#3cb371"]},"legend":{"orient":"none","legendX":382,"legendY":-74,"direction":"horizontal","title":null,"labelExpr":"'Model ' + datum.label"}}},"layer":[{"mark":{"type":"area","interpolate":"monotone","fillOpacity":0.25,"opacity":1}},{"mark":{"type":"line","interpolate":"monotone","strokeWidth":2}}]},
{"width":197,"height":172,"data":{"name":"k"},"transform":[{"fold":["A","B","C","D"],"as":["m","y"]},{"filter":"isValid(datum.y)"}],"encoding":{"x":{"field":"x","type":"quantitative","scale":{"domain":[-0.81,0.89],"nice":false,"zero":false},"axis":{"title":"u′K2","titlePadding":20,"values":[-0.5,0,0.5],"format":".1f","labelFontWeight":"bold","titleFontWeight":"bold"}},"y":{"field":"y","type":"quantitative","stack":null,"scale":{"domain":[0,1.72],"nice":false},"axis":null},"color":{"field":"m","type":"nominal","scale":{"domain":["A","B","C","D"],"range":["#000000","#ff8c00","#00bfff","#3cb371"]},"legend":{"orient":"none","legendX":382,"legendY":-74,"direction":"horizontal","title":null,"labelExpr":"'Model ' + datum.label"}}},"layer":[{"mark":{"type":"area","interpolate":"monotone","fillOpacity":0.25,"opacity":1}},{"mark":{"type":"line","interpolate":"monotone","strokeWidth":2}}]},
{"width":197,"height":172,"data":{"name":"l"},"transform":[{"fold":["A","B","C","D"],"as":["m","y"]},{"filter":"isValid(datum.y)"}],"encoding":{"x":{"field":"x","type":"quantitative","scale":{"domain":[0,1.87],"nice":false,"zero":false},"axis":{"title":"uUSNO","titlePadding":17,"values":[0,0.5,1,1.5],"format":".1f","labelFontWeight":"bold","titleFontWeight":"bold"}},"y":{"field":"y","type":"quantitative","stack":null,"scale":{"domain":[0,1.72],"nice":false},"axis":null},"color":{"field":"m","type":"nominal","scale":{"domain":["A","B","C","D"],"range":["#000000","#ff8c00","#00bfff","#3cb371"]},"legend":{"orient":"none","legendX":382,"legendY":-74,"direction":"horizontal","title":null,"labelExpr":"'Model ' + datum.label"}}},"layer":[{"mark":{"type":"area","interpolate":"monotone","fillOpacity":0.25,"opacity":1}},{"mark":{"type":"line","interpolate":"monotone","strokeWidth":2}}]},
{"width":197,"height":172,"data":{"name":"m"},"transform":[{"fold":["A","B","C","D"],"as":["m","y"]},{"filter":"isValid(datum.y)"}],"encoding":{"x":{"field":"x","type":"quantitative","scale":{"domain":[-0.9,0.93],"nice":false,"zero":false},"axis":{"title":"u′USNO","titlePadding":20,"values":[-0.5,0,0.5],"format":".1f","labelFontWeight":"bold","titleFontWeight":"bold"}},"y":{"field":"y","type":"quantitative","stack":null,"scale":{"domain":[0,1.72],"nice":false},"axis":null},"color":{"field":"m","type":"nominal","scale":{"domain":["A","B","C","D"],"range":["#000000","#ff8c00","#00bfff","#3cb371"]},"legend":{"orient":"none","legendX":382,"legendY":-74,"direction":"horizontal","title":null,"labelExpr":"'Model ' + datum.label"}}},"layer":[{"mark":{"type":"area","interpolate":"monotone","fillOpacity":0.25,"opacity":1}},{"mark":{"type":"line","interpolate":"monotone","strokeWidth":2}}]},
{"width":197,"height":105,"data":{"values":[]},"mark":"point"},
{"width":197,"height":172,"data":{"name":"n"},"title":{"text":"K2 GP hyperparameters","subtitle":"━━━━━━━━━━━━━━━━━━━━━━━━━━━━━━━━━━━━━━━━━━━━━━━━━━━━━━","anchor":"start","frame":"group","orient":"top","fontSize":23.5,"fontWeight":"bold","subtitleFont":"DejaVu Sans","subtitleFontSize":10,"subtitleColor":"#262626","subtitlePadding":0,"offset":-52},"transform":[{"fold":["A","B","C","D"],"as":["m","y"]},{"filter":"isValid(datum.y)"}],"encoding":{"x":{"field":"x","type":"quantitative","scale":{"domain":[0.1255,0.518],"nice":false,"zero":false},"axis":{"title":"AK2","values":[0.2,0.3,0.4,0.5],"format":".1f","labelFontWeight":"bold","titleFontWeight":"bold"}},"y":{"field":"y","type":"quantitative","stack":null,"scale":{"domain":[0,1.72],"nice":false},"axis":null},"color":{"field":"m","type":"nominal","scale":{"domain":["A","B","C","D"],"range":["#000000","#ff8c00","#00bfff","#3cb371"]},"legend":{"orient":"none","legendX":382,"legendY":-74,"direction":"horizontal","title":null,"labelExpr":"'Model ' + datum.label"}}},"layer":[{"mark":{"type":"area","interpolate":"monotone","fillOpacity":0.25,"opacity":1}},{"mark":{"type":"line","interpolate":"monotone","strokeWidth":2}}]},
{"width":197,"height":172,"data":{"name":"o"},"transform":[{"fold":["A","B","C","D"],"as":["m","y"]},{"filter":"isValid(datum.y)"}],"encoding":{"x":{"field":"x","type":"quantitative","scale":{"domain":[146.2,165.7],"nice":false,"zero":false},"axis":{"title":"lSE K2","values":[150,155,160,165],"format":"d","titleFontWeight":"bold"}},"y":{"field":"y","type":"quantitative","stack":null,"scale":{"domain":[0,1.72],"nice":false},"axis":null},"color":{"field":"m","type":"nominal","scale":{"domain":["A","B","C","D"],"range":["#000000","#ff8c00","#00bfff","#3cb371"]},"legend":{"orient":"none","legendX":382,"legendY":-74,"direction":"horizontal","title":null,"labelExpr":"'Model ' + datum.label"}}},"layer":[{"mark":{"type":"area","interpolate":"monotone","fillOpacity":0.25,"opacity":1}},{"mark":{"type":"line","interpolate":"monotone","strokeWidth":2}}]},
{"width":197,"height":172,"data":{"name":"q"},"transform":[{"fold":["A","B","C","D"],"as":["m","y"]},{"filter":"isValid(datum.y)"}],"encoding":{"x":{"field":"x","type":"quantitative","scale":{"domain":[0.261,0.772],"nice":false,"zero":false},"axis":{"title":"ΓESS K2","values":[0.4,0.6],"format":".1f","labelFontWeight":"bold"}},"y":{"field":"y","type":"quantitative","stack":null,"scale":{"domain":[0,1.72],"nice":false},"axis":null},"color":{"field":"m","type":"nominal","scale":{"domain":["A","B","C","D"],"range":["#000000","#ff8c00","#00bfff","#3cb371"]},"legend":{"orient":"none","legendX":382,"legendY":-74,"direction":"horizontal","title":null,"labelExpr":"'Model ' + datum.label"}}},"layer":[{"mark":{"type":"area","interpolate":"monotone","fillOpacity":0.25,"opacity":1}},{"mark":{"type":"line","interpolate":"monotone","strokeWidth":2}}]},
{"width":197,"height":172,"data":{"name":"r"},"transform":[{"fold":["A","B","C","D"],"as":["m","y"]},{"filter":"isValid(datum.y)"}],"encoding":{"x":{"field":"x","type":"quantitative","scale":{"domain":[23.21,24.85],"nice":false,"zero":false},"axis":{"title":"PESS K2","values":[23.5,24,24.5],"format":".1f"}},"y":{"field":"y","type":"quantitative","stack":null,"scale":{"domain":[0,1.72],"nice":false},"axis":null},"color":{"field":"m","type":"nominal","scale":{"domain":["A","B","C","D"],"range":["#000000","#ff8c00","#00bfff","#3cb371"]},"legend":{"orient":"none","legendX":382,"legendY":-74,"direction":"horizontal","title":null,"labelExpr":"'Model ' + datum.label"}}},"layer":[{"mark":{"type":"area","interpolate":"monotone","fillOpacity":0.25,"opacity":1}},{"mark":{"type":"line","interpolate":"monotone","strokeWidth":2}}]},
{"width":197,"height":172,"data":{"name":"s"},"transform":[{"fold":["A","B","C","D"],"as":["m","y"]},{"filter":"isValid(datum.y)"}],"encoding":{"x":{"field":"x","type":"quantitative","scale":{"domain":[1.32,1.4245],"nice":false,"zero":false},"axis":{"title":"σK2","values":[1.35,1.4],"format":".2f","titleFontWeight":"bold"}},"y":{"field":"y","type":"quantitative","stack":null,"scale":{"domain":[0,1.72],"nice":false},"axis":null},"color":{"field":"m","type":"nominal","scale":{"domain":["A","B","C","D"],"range":["#000000","#ff8c00","#00bfff","#3cb371"]},"legend":{"orient":"none","legendX":382,"legendY":-74,"direction":"horizontal","title":null,"labelExpr":"'Model ' + datum.label"}}},"layer":[{"mark":{"type":"area","interpolate":"monotone","fillOpacity":0.25,"opacity":1}},{"mark":{"type":"line","interpolate":"monotone","strokeWidth":2}}]},
{"width":197,"height":172,"data":{"name":"t"},"title":{"text":"USNO GP hyperparameters","subtitle":"━━━━━━━━━━━━━━━━━━━━━━━━━━━━━━━━━━━━━━━━━━━━━━━━━━━━━━━━━━━━━━","anchor":"start","frame":"group","orient":"top","fontSize":26.5,"fontWeight":"normal","subtitleFont":"DejaVu Sans","subtitleFontSize":10,"subtitleColor":"#262626","subtitlePadding":0,"offset":-51},"transform":[{"fold":["A","B","C","D"],"as":["m","y"]},{"filter":"isValid(datum.y)"}],"encoding":{"x":{"field":"x","type":"quantitative","scale":{"domain":[0.015,0.548],"nice":false,"zero":false},"axis":{"title":"AUSNO","titlePadding":18,"values":[0.2,0.4],"format":".1f","labelFontWeight":"bold"}},"y":{"field":"y","type":"quantitative","stack":null,"scale":{"domain":[0,1.72],"nice":false},"axis":null},"color":{"field":"m","type":"nominal","scale":{"domain":["A","B","C","D"],"range":["#000000","#ff8c00","#00bfff","#3cb371"]},"legend":{"orient":"none","legendX":382,"legendY":-74,"direction":"horizontal","title":null,"labelExpr":"'Model ' + datum.label"}}},"layer":[{"mark":{"type":"area","interpolate":"monotone","fillOpacity":0.25,"opacity":1}},{"mark":{"type":"line","interpolate":"monotone","strokeWidth":2}}]},
{"width":197,"height":172,"data":{"name":"u"},"transform":[{"fold":["A","B","C","D"],"as":["m","y"]},{"filter":"isValid(datum.y)"}],"encoding":{"x":{"field":"x","type":"quantitative","scale":{"domain":[0.45,10],"nice":false,"zero":false},"axis":{"title":"lSE USNO","titlePadding":18,"values":[2,4,6,8,10],"format":"d"}},"y":{"field":"y","type":"quantitative","stack":null,"scale":{"domain":[0,1.72],"nice":false},"axis":null},"color":{"field":"m","type":"nominal","scale":{"domain":["A","B","C","D"],"range":["#000000","#ff8c00","#00bfff","#3cb371"]},"legend":{"orient":"none","legendX":382,"legendY":-74,"direction":"horizontal","title":null,"labelExpr":"'Model ' + datum.label"}}},"layer":[{"mark":{"type":"area","interpolate":"monotone","fillOpacity":0.25,"opacity":1}},{"mark":{"type":"line","interpolate":"monotone","strokeWidth":2}}]},
{"width":197,"height":172,"data":{"name":"v"},"transform":[{"fold":["A","B","C","D"],"as":["m","y"]},{"filter":"isValid(datum.y)"}],"encoding":{"x":{"field":"x","type":"quantitative","scale":{"domain":[1.003,1.417],"nice":false,"zero":false},"axis":{"title":"σUSNO","titlePadding":18,"values":[1.1,1.2,1.3,1.4],"format":".1f","titleFontWeight":"bold"}},"y":{"field":"y","type":"quantitative","stack":null,"scale":{"domain":[0,1.72],"nice":false},"axis":null},"color":{"field":"m","type":"nominal","scale":{"domain":["A","B","C","D"],"range":["#000000","#ff8c00","#00bfff","#3cb371"]},"legend":{"orient":"none","legendX":382,"legendY":-74,"direction":"horizontal","title":null,"labelExpr":"'Model ' + datum.label"}}},"layer":[{"mark":{"type":"area","interpolate":"monotone","fillOpacity":0.25,"opacity":1}},{"mark":{"type":"line","interpolate":"monotone","strokeWidth":2}}]},
{"width":197,"height":105,"data":{"values":[]},"mark":"point"},
{"width":197,"height":105,"data":{"values":[]},"mark":"point"}
],
"config":{
"view":{"stroke":null},
"title":{"font":"DejaVu Serif","color":"#262626"},
"axis":{"domainColor":"#333333","domainWidth":2,"tickColor":"#333333","tickWidth":1,"tickSize":6,"labelFont":"DejaVu Serif","labelFontSize":15,"labelColor":"#262626","labelAngle":-30,"labelAlign":"center","labelBaseline":"middle","labelPadding":27,"labelFlush":false,"labelOverlap":false,"titleFont":"DejaVu Serif","titleFontSize":19,"titleColor":"#262626","titlePadding":20,"titleFontWeight":"normal","grid":false},
"legend":{"symbolType":"M-2,0L2,0","symbolSize":400,"symbolStrokeWidth":2.5,"symbolOpacity":1,"labelFont":"DejaVu Serif","labelFontSize":21,"labelColor":"#262626","labelOffset":19,"columnPadding":42,"padding":0}
}
}
